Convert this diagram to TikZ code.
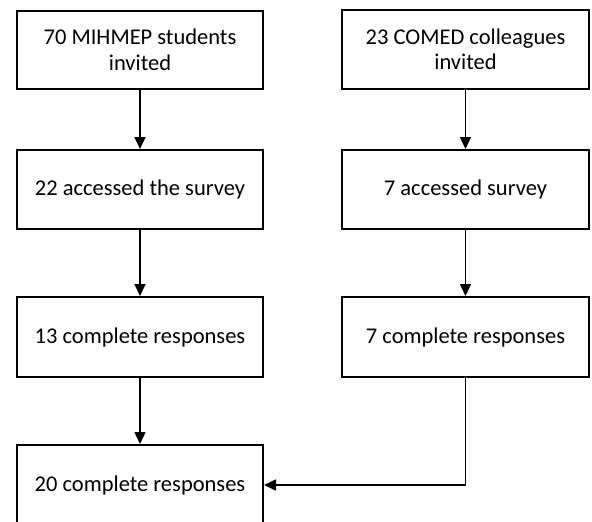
\documentclass[tikz,border=0pt]{standalone}
\usepackage{fontspec}
\setmainfont{Carlito}
\usetikzlibrary{arrows.meta}
\begin{document}
\begin{tikzpicture}[x=1pt,y=-1pt,
  stagebox/.style={draw=black, line width=2pt, rectangle, align=center,
    minimum width=246pt, inner sep=0pt,
    font=\fontsize{22.5}{25.5}\selectfont},
  flow/.style={line width=1.6pt, -{Triangle[length=12pt,width=11pt]}}]
\useasboundingbox (0,0) rectangle (592,522);
% left column: MIHMEP students
\node[stagebox, minimum height=78pt] (l1) at (140,50) {70 MIHMEP students\\invited};
\node[stagebox, minimum height=79pt] (l2) at (140,189.5) {22 accessed the survey};
\node[stagebox, minimum height=80pt] (l3) at (140,337) {13 complete responses};
\node[stagebox, minimum height=80pt] (l4) at (140,485) {20 complete responses};
% right column: COMED colleagues
\node[stagebox, minimum height=79pt, minimum width=247pt] (r1) at (465.5,49.5) {23 COMED colleagues\\invited};
\node[stagebox, minimum height=79pt, minimum width=247pt] (r2) at (465.5,189.5) {7 accessed survey};
\node[stagebox, minimum height=80pt, minimum width=247pt] (r3) at (465.5,337) {7 complete responses};
% connectors
\draw[flow] (l1) -- (l2);
\draw[flow] (l2) -- (l3);
\draw[flow] (l3) -- (l4);
\draw[flow] (r1) -- (r2);
\draw[flow] (r2) -- (r3);
\draw[flow] (r3.south) |- (l4.east);
\end{tikzpicture}
\end{document}
